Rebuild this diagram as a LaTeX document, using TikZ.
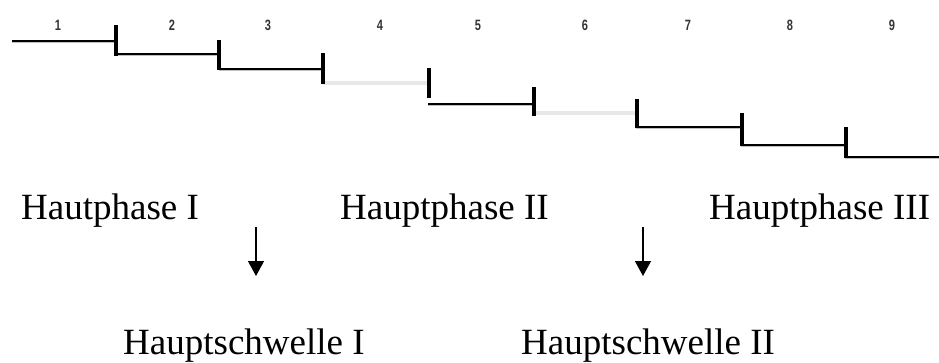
\documentclass[tikz,border=0pt]{standalone}
\usepackage{fontspec}
\setmainfont{Liberation Serif}
\newfontfamily\numfont{Liberation Sans}
\usetikzlibrary{arrows.meta}
\begin{document}
\begin{tikzpicture}[x=1pt,y=-1pt,
  lbl/.style={anchor=base west,inner sep=0pt,font=\fontsize{37}{44}\selectfont},
  num/.style={inner sep=0pt,font=\numfont\bfseries\fontsize{13}{13}\selectfont,text=black!80,transform shape,xscale=0.85,yscale=1.15},
  shadow/.style={line width=3.5pt,draw=black!25},
  blk/.style={line width=1.4pt,draw=black},
  pale/.style={line width=4pt,draw=black!9},
  bar/.style={line width=4pt,draw=black},
  harrow/.style={line width=1.3pt,-{Triangle[width=16pt,length=15pt]}}]
\useasboundingbox (0,0) rectangle (939,362);
% numbers
\foreach \n/\x in {1/58,2/172,3/268,4/380,5/478,6/585,7/688,8/790,9/892}
  \node[num] (n\n) at (\x,25) {\n};
% horizontal steps (x start, x end, level)
\foreach \a/\b/\l in {12/116/41,116/219/54,219/323/69,428/533/104,636/741/127,741/845/145,845/939/157}{
  \draw[shadow] (\a,\l+0.5) -- (\b,\l+0.5);
  \draw[blk] (\a,\l) -- (\b,\l);
}
\foreach \a/\b/\l in {323/428/83,533/636/113}
  \draw[pale] (\a,\l) -- (\b,\l);
% vertical bars
\foreach \x/\t/\u in {116/25/56,219/40/70,323/53/84,429/68/98,534/87/116,637/99/128,742/113/146,846/127/158}
  \draw[bar] (\x,\t) -- (\x,\u);
% labels
\node[lbl] (p1) at (21,219) {Hautphase I};
\node[lbl] (p2) at (340,219) {Hauptphase II};
\node[lbl] (p3) at (709,219) {Hauptphase III};
\node[lbl] (s1) at (123,354) {Hauptschwelle I};
\node[lbl] (s2) at (521,354) {Hauptschwelle II};
% arrows
\coordinate (a1s) at (256,227);
\coordinate (a1e) at (256,276);
\coordinate (a2s) at (643,227);
\coordinate (a2e) at (643,276);
\draw[harrow] (a1s) -- (a1e);
\draw[harrow] (a2s) -- (a2e);
\end{tikzpicture}
\end{document}
